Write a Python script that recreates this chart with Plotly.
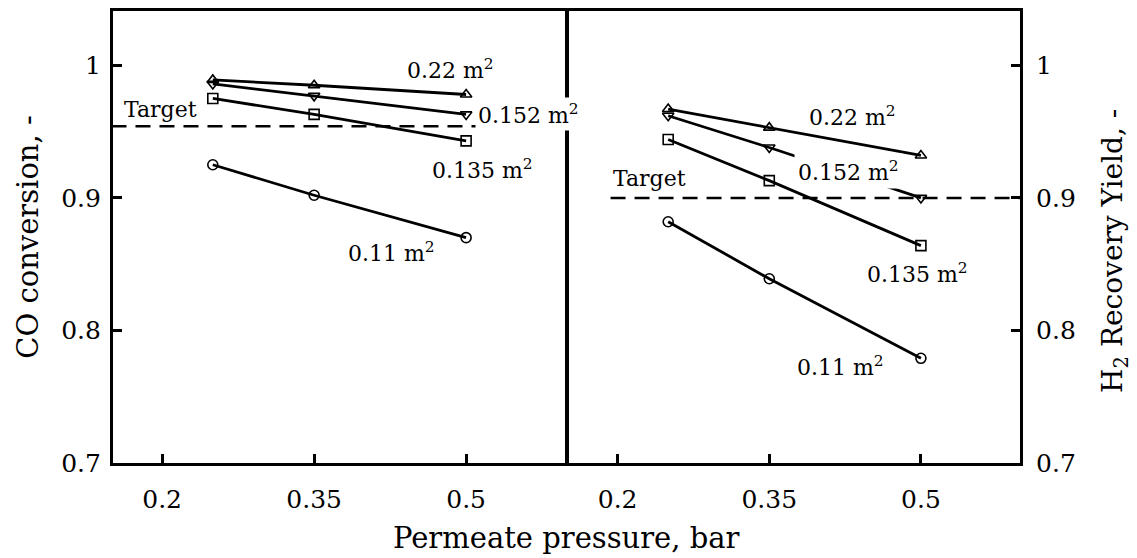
import plotly.graph_objects as go

# Permeate pressure (bar) at which each membrane area was evaluated
pressure = [0.25, 0.35, 0.5]

# Membrane areas and their marker symbols
areas = ["0.22", "0.152", "0.135", "0.11"]
symbols = ["triangle-up-open", "triangle-down-open", "square-open", "circle-open"]

# CO conversion (left panel)
co_022 = [0.989, 0.985, 0.978]
co_0152 = [0.986, 0.977, 0.963]
co_0135 = [0.975, 0.963, 0.943]
co_011 = [0.925, 0.902, 0.870]

# H2 recovery yield (right panel)
h2_022 = [0.967, 0.953, 0.932]
h2_0152 = [0.962, 0.938, 0.900]
h2_0135 = [0.944, 0.913, 0.864]
h2_011 = [0.882, 0.839, 0.779]

# Target levels and the pressure span over which each target line is drawn
co_target = 0.954
co_target_span = [0.15, 0.53]
h2_target = 0.900
h2_target_span = [0.193, 0.598]

x_ticks = [0.2, 0.35, 0.5]
y_ticks = [0.7, 0.8, 0.9, 1.0]
y_tick_text = ["0.7", "0.8", "0.9", "1"]

FONT = "DejaVu Serif"
BLACK = "#000000"
LW = 3.2

fig = go.Figure()

co_series = [co_022, co_0152, co_0135, co_011]
h2_series = [h2_022, h2_0152, h2_0135, h2_011]

for vals, sym in zip(co_series, symbols):
    fig.add_trace(go.Scatter(
        x=pressure, y=vals, mode="lines+markers", xaxis="x", yaxis="y",
        line=dict(color=BLACK, width=2.8),
        marker=dict(symbol=sym, size=10, color=BLACK, line=dict(width=1.6, color=BLACK)),
        showlegend=False, cliponaxis=False,
    ))

for vals, sym in zip(h2_series, symbols):
    fig.add_trace(go.Scatter(
        x=pressure, y=vals, mode="lines+markers", xaxis="x2", yaxis="y2",
        line=dict(color=BLACK, width=2.8),
        marker=dict(symbol=sym, size=10, color=BLACK, line=dict(width=1.6, color=BLACK)),
        showlegend=False, cliponaxis=False,
    ))

# Dashed target lines
fig.add_trace(go.Scatter(
    x=co_target_span, y=[co_target, co_target], mode="lines", xaxis="x", yaxis="y",
    line=dict(color=BLACK, width=2.5, dash="15px,9px"), showlegend=False,
))
fig.add_trace(go.Scatter(
    x=h2_target_span, y=[h2_target, h2_target], mode="lines", xaxis="x2", yaxis="y2",
    line=dict(color=BLACK, width=2.5, dash="15px,9px"), showlegend=False,
))

x_range = [0.1515, 0.598]
y_range = [0.7, 1.041]
plot_w = 907
# the two panels' inner borders are drawn on top of each other at the divider
left_end = (454 - LW / 2) / plot_w
right_start = (454 + LW / 2) / plot_w

axis_common = dict(
    showline=True, linecolor=BLACK, linewidth=LW, mirror=True,
    ticks="inside", ticklen=9, tickwidth=2.5, tickcolor=BLACK,
    showgrid=False, zeroline=False,
    tickfont=dict(family=FONT, size=25, color=BLACK),
)

fig.update_layout(
    width=1137, height=558,
    margin=dict(l=113, r=117, t=8, b=95),
    paper_bgcolor="white", plot_bgcolor="rgba(0,0,0,0)",
    font=dict(family=FONT, color=BLACK),
    xaxis=dict(domain=[0, left_end], range=x_range, tickvals=x_ticks,
               ticktext=["0.2", "0.35", "0.5"], anchor="y",
               ticklabelstandoff=12, **axis_common),
    xaxis2=dict(domain=[right_start, 1], range=x_range, tickvals=x_ticks,
                ticktext=["0.2", "0.35", "0.5"], anchor="y2",
                ticklabelstandoff=12, **axis_common),
    yaxis=dict(range=y_range, tickvals=y_ticks, ticktext=y_tick_text,
               anchor="x", side="left", ticklabelstandoff=4, **axis_common),
    yaxis2=dict(range=y_range, tickvals=y_ticks, ticktext=y_tick_text,
                anchor="x2", side="right", ticklabelstandoff=8, **axis_common),
)

label_font = dict(family=FONT, size=22, color=BLACK)

annotations = [
    # left panel
    dict(x=0.485, y=0.997, xref="x", yref="y", text="0.22 m<sup>2</sup>"),
    dict(x=0.509, y=0.963, xref="x", yref="y", text="0.152 m<sup>2</sup>",
         xanchor="left", bgcolor="white", borderpad=2),
    dict(x=0.516, y=0.922, xref="x", yref="y", text="0.135 m<sup>2</sup>"),
    dict(x=0.426, y=0.859, xref="x", yref="y", text="0.11 m<sup>2</sup>"),
    dict(x=0.198, y=0.967, xref="x", yref="y", text="Target"),
    # right panel
    dict(x=0.432, y=0.962, xref="x2", yref="y2", text="0.22 m<sup>2</sup>"),
    dict(x=0.428, y=0.920, xref="x2", yref="y2", text="0.152 m<sup>2</sup>",
         bgcolor="white", borderpad=3),
    dict(x=0.497, y=0.843, xref="x2", yref="y2", text="0.135 m<sup>2</sup>"),
    dict(x=0.420, y=0.773, xref="x2", yref="y2", text="0.11 m<sup>2</sup>"),
    dict(x=0.232, y=0.915, xref="x2", yref="y2", text="Target"),
]
for a in annotations:
    a.update(showarrow=False, font=label_font)
    fig.add_annotation(**a)

title_font = dict(family=FONT, size=29, color=BLACK)
fig.add_annotation(x=0.5, y=-0.165, xref="paper", yref="paper",
                   text="Permeate pressure, bar", showarrow=False,
                   font=title_font, xanchor="center", yanchor="middle")
fig.add_annotation(x=-0.094, y=0.5, xref="paper", yref="paper",
                   text="CO conversion, -", showarrow=False, textangle=-90,
                   font=title_font, xanchor="center", yanchor="middle")
fig.add_annotation(x=1.104, y=0.47, xref="paper", yref="paper",
                   text="H<sub>2</sub> Recovery Yield, -", showarrow=False, textangle=-90,
                   font=dict(family=FONT, size=28, color=BLACK),
                   xanchor="center", yanchor="middle")

fig.write_html("out.html")
